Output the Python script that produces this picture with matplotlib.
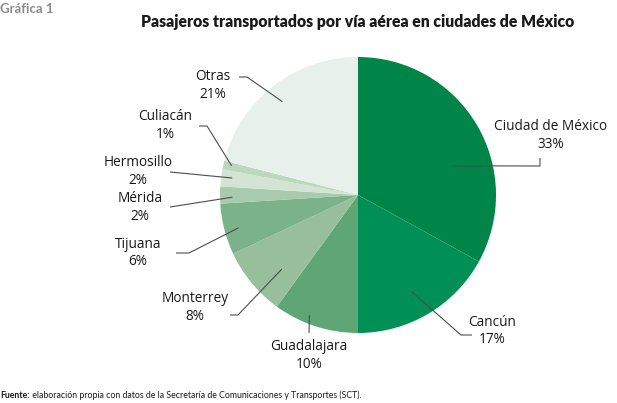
import matplotlib
matplotlib.use("Agg")
import numpy as np
import matplotlib.pyplot as plt

# datos
ciudades = ["Ciudad de México", "Cancún", "Guadalajara", "Monterrey", "Tijuana",
            "Mérida", "Hermosillo", "Culiacán", "Otras"]
porcentajes = [33, 17, 10, 8, 6, 2, 2, 1, 21]
colores = ["#008548", "#009056", "#5fa676", "#97bf9b", "#7bb28a",
           "#a8cbab", "#d3e4d4", "#bdd6be", "#e8f0eb"]

# posiciones de etiquetas en pixeles (x, y del nombre), y lineas guia
# (desfase de angulo, radio del ancla, puntos de la linea en pixeles)
etiquetas_px = [(551, 127), (492, 322), (309, 347), (195, 299), (138, 244),
                (140, 199), (138, 163), (165, 117), (213, 77)]
guias = [(-13, 0.70, [(540, 166), (540, 158)]),
         (-1.6, 0.80, [(461, 335), (472, 335)]),
         (-4, 0.94, [(309, 333)]),
         (4.6, 0.77, [(238, 315), (230, 315)]),
         (1, 0.90, [(189, 253), (176, 253)]),
         (1, 0.91, [(170, 207)]),
         (-0.5, 0.92, [(170, 172)]),
         (-0.4, 0.94, [(207, 126), (199, 126)]),
         (1.2, 0.87, [(247, 77), (239, 77)])]

W, H = 617, 403
CX, CY, R = 358, 195, 138

fig = plt.figure(figsize=(W / 100, H / 100), dpi=100)
# ejes en pixeles: 1 unidad = R pixeles
ax = fig.add_axes([0, 0, 1, 1])


def px(x, y):
    return (x - CX) / R, (CY - y) / R


ax.pie(porcentajes, colors=colores, startangle=90, counterclock=False,
       radius=1, center=(0, 0), wedgeprops=dict(linewidth=0), frame=True)
ax.set_xlim(-CX / R, (W - CX) / R)
ax.set_ylim(-(H - CY) / R, CY / R)
ax.axis("off")

fuente = "Open Sans"
acum = np.cumsum([0] + porcentajes)
for i, nombre in enumerate(ciudades):
    medio = 90 - (acum[i] + porcentajes[i] / 2) * 3.6
    desfase, r, puntos = guias[i]
    a = np.radians(medio + desfase)
    xs = [r * np.cos(a)] + [px(*p)[0] for p in puntos]
    ys = [r * np.sin(a)] + [px(*p)[1] for p in puntos]
    ax.plot(xs, ys, color="#4d4d4d", lw=0.8, solid_capstyle="butt")
    tx, ty = etiquetas_px[i]
    ax.text(*px(tx, ty), nombre, ha="center", va="center", fontsize=9.8,
            family=fuente, color="#1a1718")
    ax.text(*px(tx, ty + 17.5), f"{porcentajes[i]}%", ha="center", va="center",
            fontsize=9.8, family=fuente, color="#1a1718")

fig.text(0.0, 1 - 9 / H, "Gráfica 1", ha="left", va="center", fontsize=9.5,
         fontweight="bold", color="#8c8c8c", family="Lato")
fig.text(CX / W, 1 - 22 / H, "Pasajeros transportados por vía aérea en ciudades de México",
         ha="center", va="center", fontsize=11.3, fontweight="heavy", color="#1a1a1a",
         family="Lato")
t_bold = fig.text(0.0, 1 - 395 / H, "Fuente:", ha="left", va="center", fontsize=6.3,
                  fontweight="bold", color="#1a1a1a", family="Lato")
ax.annotate(" elaboración propia con datos de la Secretaría de Comunicaciones y Transportes (SCT).",
            xy=(1, 0), xycoords=t_bold, ha="left", va="bottom", fontsize=6.3,
            color="#1a1a1a", family="Lato", annotation_clip=False)

fig.savefig("out.png", dpi=100, facecolor="white")
